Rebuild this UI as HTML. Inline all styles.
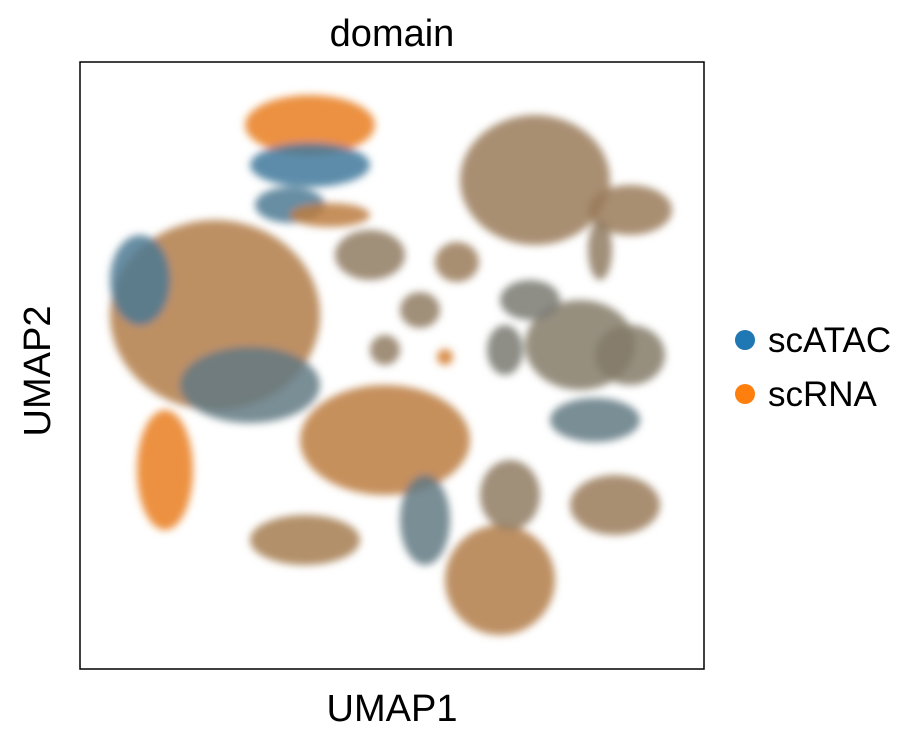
<!DOCTYPE html>
<html><head><meta charset="utf-8"><style>
body{margin:0;background:#fff;width:914px;height:735px;overflow:hidden;font-family:"Liberation Sans",sans-serif}
</style></head><body>
<svg width="914" height="735">
<defs><filter id="b" x="-30%" y="-30%" width="160%" height="160%"><feGaussianBlur stdDeviation="4"/></filter></defs>
<text x="392" y="46" font-size="38" text-anchor="middle">domain</text>
<g id="marks" filter="url(#b)"></g>
<rect x="80" y="62" width="624" height="607" fill="none" stroke="#000" stroke-width="1.5"/>
<text x="392" y="721" font-size="38" text-anchor="middle">UMAP1</text>
<text x="50" y="371" font-size="38" text-anchor="middle" transform="rotate(-90 50 371)">UMAP2</text>
<g>
<circle cx="745" cy="340" r="10" fill="#1f77b4"/>
<text x="768" y="352" font-size="35">scATAC</text>
<circle cx="745" cy="394" r="10" fill="#ff7f0e"/>
<text x="768" y="406" font-size="35">scRNA</text>
</g>
</svg>
<script>
const clusterX=[230,230,210,135,60,170,85,455,550,520,500,550,515,305,420,430,535,377,340,290,305,365,450,225,345,250,425];
const clusterY=[544,504,464,354,389,284,199,489,459,419,324,314,249,229,89,174,164,407,359,414,319,312,369,129,149,454,319];
const clusterRx=[65,60,35,105,30,70,28,75,42,12,55,35,45,85,55,30,45,22,20,35,15,8,30,55,25,40,18];
const clusterRy=[30,22,18,95,45,38,60,65,25,30,45,30,22,55,55,35,30,20,18,25,15,8,20,25,45,12,25];
const clusterRna=[0.9,0.15,0.2,0.65,0.2,0.3,0.9,0.55,0.55,0.5,0.45,0.45,0.3,0.7,0.65,0.5,0.55,0.55,0.5,0.5,0.5,0.8,0.4,0.6,0.3,0.7,0.4];
const X0=80,Y0=669;
function sx(v){return X0+v*624/624;}
function sy(v){return Y0-v*607/607;}
function mix(f){const b=[31,119,180],o=[255,127,14];return 'rgb('+b.map((c,i)=>Math.round(c*(1-f)+o[i]*f)).join(',')+')';}
const g=document.getElementById('marks');
for(let i=0;i<clusterX.length;i++){
 const e=document.createElementNS('http://www.w3.org/2000/svg','ellipse');
 e.setAttribute('cx',sx(clusterX[i]));e.setAttribute('cy',sy(clusterY[i]));
 e.setAttribute('rx',clusterRx[i]);e.setAttribute('ry',clusterRy[i]);
 e.setAttribute('fill',mix(clusterRna[i]));e.setAttribute('opacity','0.85');
 
 
 g.appendChild(e);
}
</script>
</body></html>
